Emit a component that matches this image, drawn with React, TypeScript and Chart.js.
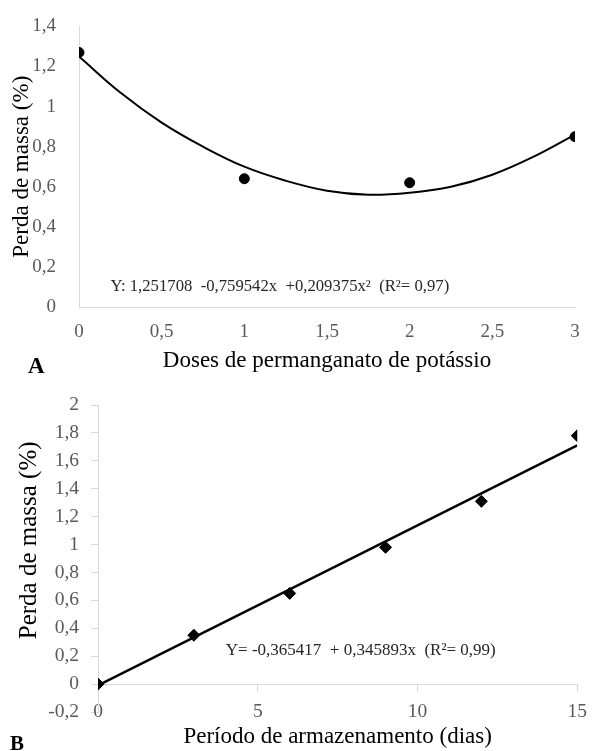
import React, { useEffect, useRef } from "react";
import { Chart, registerables } from "chart.js";

Chart.register(...registerables);

// ---- Chart A data ----
const dosesX = [0, 1, 2, 3];
const perdaA = [1.27, 0.64, 0.62, 0.85];
const curveAX = [0, 0.25, 0.5, 0.75, 1, 1.25, 1.5, 1.75, 2, 2.25, 2.5, 2.75, 3];
const curveAY = [1.25, 1.07, 0.92, 0.8, 0.7, 0.63, 0.58, 0.56, 0.57, 0.6, 0.66, 0.75, 0.86];
const eqA = "Y: 1,251708  -0,759542x  +0,209375x²  (R²= 0,97)";

// ---- Chart B data ----
const diasX = [0, 3, 6, 9, 12, 15];
const perdaB = [0, 0.35, 0.65, 0.98, 1.31, 1.78];
const lineBX = [0, 15];
const lineBY = [-0.01, 1.71];
const eqB = "Y= -0,365417  + 0,345893x  (R²= 0,99)";
const yTitleB = "Perda de massa (%)";

const SERIF = "'Liberation Serif', 'Times New Roman', serif";
const AXIS_GRAY = "#d9d9d9";
const TICK_GRAY = "#595959";

const comma = (v: number | string) => {
  const n = Number(v);
  return String(Math.round(n * 10) / 10).replace(".", ",");
};

function makeEqPlugin(text: string, xv: number, yv: number, size: number) {
  return {
    id: "eq",
    afterDraw(chart: any) {
      const { ctx, scales } = chart;
      const px = scales.x.getPixelForValue(xv);
      const py = scales.y.getPixelForValue(yv);
      ctx.save();
      ctx.font = `${size}px ${SERIF}`;
      ctx.fillStyle = "#262626";
      ctx.textAlign = "left";
      ctx.textBaseline = "middle";
      ctx.fillText(text, px, py);
      ctx.restore();
    },
  };
}

// y-axis title of chart B, centred on the positive part of the axis as in the reference
const yTitleBPlugin = {
  id: "yTitleB",
  afterDraw(chart: any) {
    const { ctx, scales } = chart;
    const cy = scales.y.getPixelForValue(1.03);
    ctx.save();
    ctx.translate(29, cy);
    ctx.rotate(-Math.PI / 2);
    ctx.font = `25px ${SERIF}`;
    ctx.fillStyle = "#000";
    ctx.textAlign = "center";
    ctx.textBaseline = "middle";
    ctx.fillText(yTitleB, 0, 0);
    ctx.restore();
  },
};

function ChartA() {
  const ref = useRef<HTMLCanvasElement>(null);
  useEffect(() => {
    const chart = new Chart(ref.current!, {
      type: "scatter",
      data: {
        datasets: [
          {
            data: curveAX.map((x, i) => ({ x, y: curveAY[i] })),
            showLine: true,
            borderColor: "#000",
            borderWidth: 2,
            pointRadius: 0,
            tension: 0.4,
            fill: false,
          },
          {
            data: dosesX.map((x, i) => ({ x, y: perdaA[i] })),
            backgroundColor: "#000",
            borderColor: "#000",
            pointRadius: 5,
            pointStyle: "circle",
          },
        ],
      },
      options: {
        animation: false,
        responsive: false,
        layout: { padding: { left: 0, right: 21, top: 24, bottom: 3 } },
        plugins: { legend: { display: false }, tooltip: { enabled: false } },
        scales: {
          x: {
            type: "linear",
            min: 0,
            max: 3,
            grid: { display: false },
            border: { display: true, color: AXIS_GRAY, width: 1 },
            ticks: {
              stepSize: 0.5,
              padding: 6,
              color: TICK_GRAY,
              font: { family: SERIF, size: 19 },
              callback: comma,
            },
            title: {
              display: true,
              text: "Doses de permanganato de potássio",
              color: "#000",
              font: { family: SERIF, size: 23 },
              padding: { top: 0, bottom: 2 },
            },
            afterFit: (s: any) => {
              s.height = 70;
            },
          },
          y: {
            type: "linear",
            min: 0,
            max: 1.4,
            grid: { display: false },
            border: { display: true, color: AXIS_GRAY, width: 1 },
            ticks: {
              stepSize: 0.2,
              padding: 15,
              color: TICK_GRAY,
              font: { family: SERIF, size: 19 },
              callback: comma,
            },
            title: {
              display: true,
              text: "Perda de massa (%)",
              color: "#000",
              font: { family: SERIF, size: 23 },
              padding: { top: 8, bottom: 0 },
            },
            afterFit: (s: any) => {
              s.width = 79;
            },
          },
        },
      },
      plugins: [makeEqPlugin(eqA, 0.19, 0.1, 16.7)],
    } as any);
    return () => chart.destroy();
  }, []);
  return <canvas ref={ref} width={596} height={380} style={{ display: "block", width: 596, height: 380 }} />;
}

function ChartB() {
  const ref = useRef<HTMLCanvasElement>(null);
  useEffect(() => {
    const chart = new Chart(ref.current!, {
      type: "scatter",
      data: {
        datasets: [
          {
            data: lineBX.map((x, i) => ({ x, y: lineBY[i] })),
            showLine: true,
            borderColor: "#000",
            borderWidth: 2.5,
            pointRadius: 0,
            fill: false,
          },
          {
            data: diasX.map((x, i) => ({ x, y: perdaB[i] })),
            backgroundColor: "#000",
            borderColor: "#000",
            pointRadius: 6,
            pointStyle: "rectRot",
          },
        ],
      },
      options: {
        animation: false,
        responsive: false,
        layout: { padding: { left: 0, right: 14, top: 25, bottom: 39 } },
        plugins: { legend: { display: false }, tooltip: { enabled: false } },
        scales: {
          x: {
            type: "linear",
            position: { y: 0 },
            min: 0,
            max: 15,
            grid: {
              display: true,
              drawOnChartArea: false,
              drawTicks: true,
              tickLength: 7,
              color: AXIS_GRAY,
            },
            border: { display: true, color: AXIS_GRAY, width: 1 },
            ticks: {
              stepSize: 5,
              padding: 9,
              color: TICK_GRAY,
              font: { family: SERIF, size: 19.5 },
              callback: comma,
            },
            title: {
              display: true,
              text: "Período de armazenamento (dias)",
              color: "#000",
              font: { family: SERIF, size: 23 },
              padding: { top: 0, bottom: 0 },
            },
            afterFit: (s: any) => {
              s.height = 67;
            },
          },
          y: {
            type: "linear",
            min: -0.2,
            max: 2,
            grid: {
              display: true,
              drawOnChartArea: false,
              drawTicks: true,
              tickLength: 7,
              color: AXIS_GRAY,
            },
            border: { display: true, color: AXIS_GRAY, width: 1 },
            ticks: {
              stepSize: 0.2,
              padding: 12,
              color: TICK_GRAY,
              font: { family: SERIF, size: 19.5 },
              callback: comma,
            },
            title: { display: false },
            afterFit: (s: any) => {
              s.width = 98;
            },
          },
        },
      },
      plugins: [makeEqPlugin(eqB, 4.0, 0.24, 17), yTitleBPlugin],
    } as any);
    return () => chart.destroy();
  }, []);
  return <canvas ref={ref} width={596} height={371} style={{ display: "block", width: 596, height: 371 }} />;
}

export default function App() {
  return (
    <div
      style={{
        position: "fixed",
        left: 0,
        top: 0,
        width: 596,
        height: 751,
        background: "#fff",
        fontFamily: SERIF,
      }}
    >
      <div style={{ position: "absolute", left: 0, top: 0 }}>
        <ChartA />
      </div>
      <div style={{ position: "absolute", left: 0, top: 380 }}>
        <ChartB />
      </div>
      <div
        style={{
          position: "absolute",
          left: 28,
          top: 353,
          fontSize: 23,
          fontWeight: "bold",
          lineHeight: "26px",
          color: "#000",
        }}
      >
        A
      </div>
      <div
        style={{
          position: "absolute",
          left: 10,
          top: 731,
          fontSize: 21,
          fontWeight: "bold",
          lineHeight: "24px",
          color: "#000",
        }}
      >
        B
      </div>
    </div>
  );
}
